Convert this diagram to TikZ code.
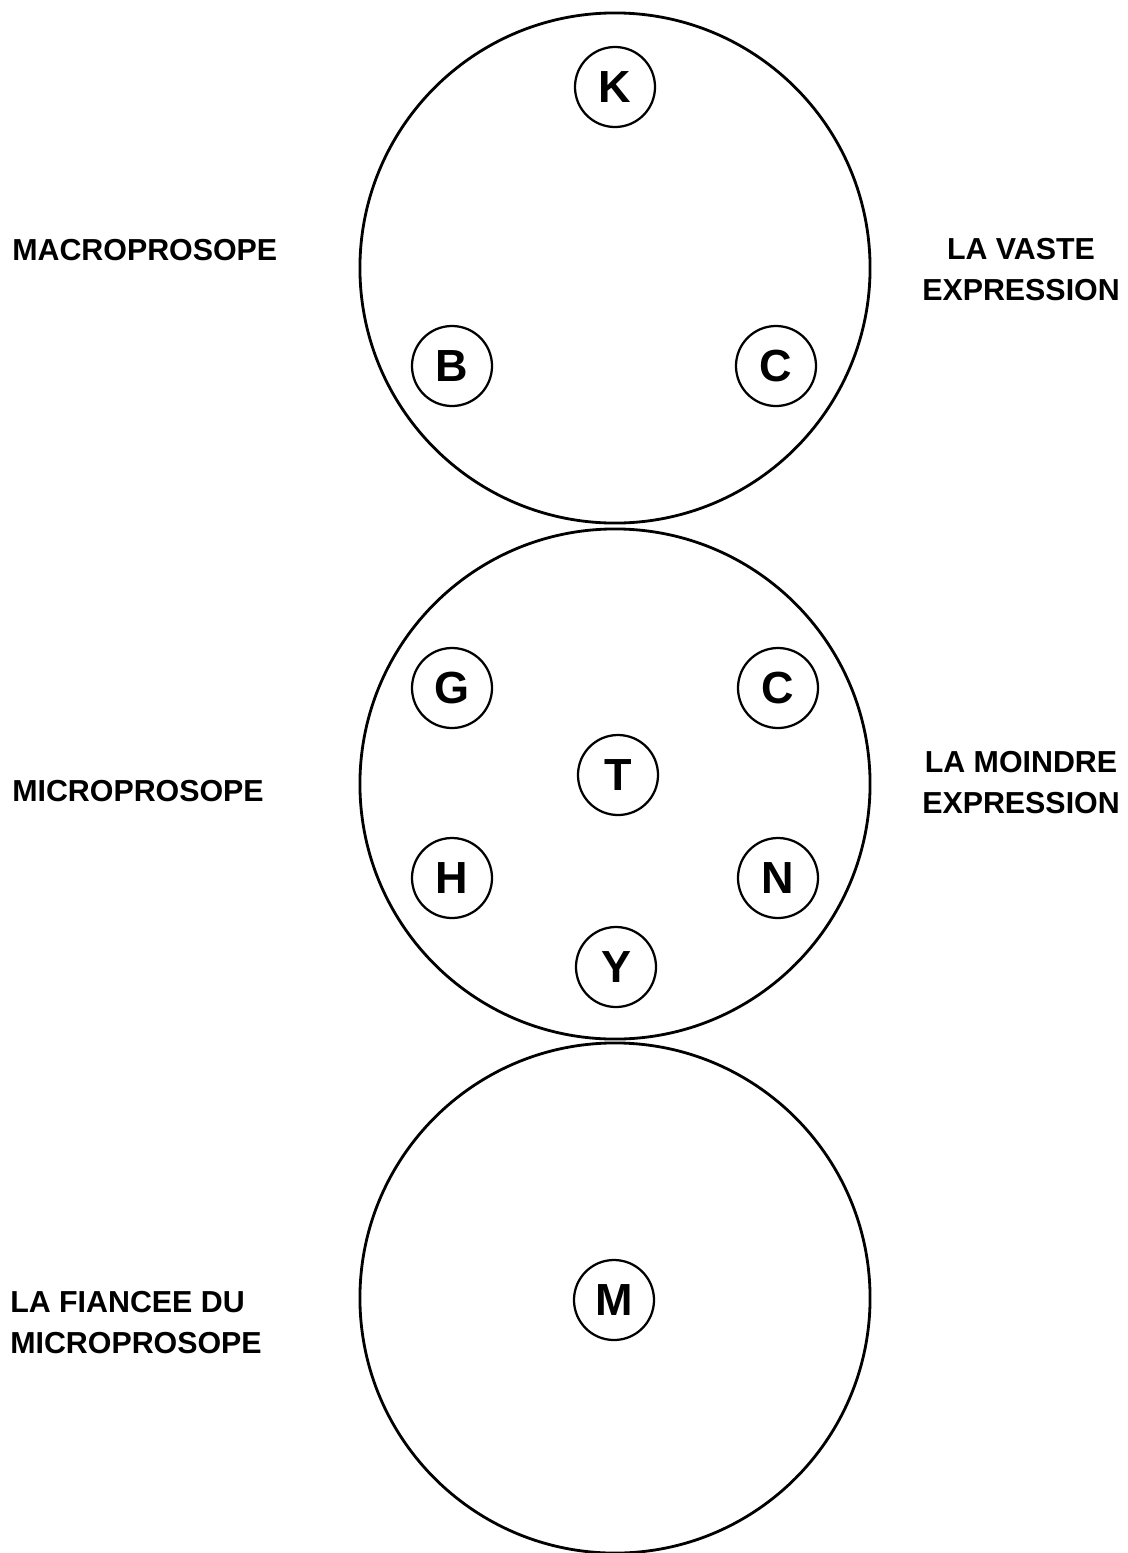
\documentclass[tikz,border=0pt]{standalone}
\usepackage{fontspec}
\setmainfont{Liberation Sans}

\begin{document}
\begin{tikzpicture}[x=0.025cm, y=-0.025cm,
    sphere/.style={draw, circle, line width=2pt, minimum size=12.75cm, inner sep=0pt},
    letter/.style={draw, circle, line width=1.6pt, minimum size=2cm, inner sep=0pt,
        font=\fontsize{32}{32}\selectfont\bfseries},
    sidetext/.style={inner sep=0pt, font=\fontsize{21.6}{28.5}\selectfont\bfseries}]
    \useasboundingbox (0,0) rectangle (1127,1553);
    % the three spheres
    \node (macro) at (615,268) [sphere] {};
    \node (micro) at (615,784) [sphere] {};
    \node (bride) at (615,1298) [sphere] {};
    % letters of the first sphere
    \node (K) at (615,87) [letter] {K};
    \node (B) at (452,366) [letter] {B};
    \node (C) at (776,366) [letter] {C};
    % letters of the second sphere
    \node (G) at (452,688) [letter] {G};
    \node (Cm) at (778,688) [letter] {C};
    \node (T) at (618,775) [letter] {T};
    \node (H) at (452,878) [letter] {H};
    \node (N) at (778,878) [letter] {N};
    \node (Y) at (616,967) [letter] {Y};
    % letter of the third sphere
    \node (M) at (614,1300) [letter] {M};
    % names (base = last line)
    \node (macroname) at (12,260) [sidetext, anchor=base west] {MACROPROSOPE};
    \node (vaste) at (1021,300) [sidetext, anchor=base, align=center] {LA VASTE\\EXPRESSION};
    \node (microname) at (12,801) [sidetext, anchor=base west] {MICROPROSOPE};
    \node (moindre) at (1021,813) [sidetext, anchor=base, align=center] {LA MOINDRE\\EXPRESSION};
    \node (bridename) at (10,1353) [sidetext, anchor=base west, align=left] {LA FIANCEE DU\\MICROPROSOPE};
\end{tikzpicture}
\end{document}
